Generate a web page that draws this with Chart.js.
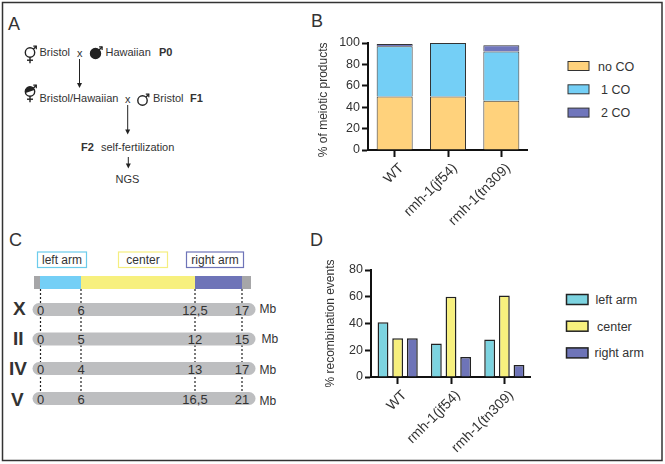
<!DOCTYPE html>
<html>
<head>
<meta charset="utf-8">
<script src="https://cdn.jsdelivr.net/npm/chart.js@4"></script>
<style>
  html, body { margin: 0; padding: 0; background: #fff; }
  #page { position: relative; width: 665px; height: 464px; overflow: hidden; }
  #page canvas { position: absolute; }
  #art { position: absolute; left: 0; top: 0; }
  #art text { font-family: "Liberation Sans", Arial, sans-serif; fill: #333; }
</style>
</head>
<body>
<div id="page">
  <svg id="art" width="665" height="464" xmlns="http://www.w3.org/2000/svg"></svg>
  <canvas id="chart-b" style="left:316px;top:30px" width="212" height="200"></canvas>
  <canvas id="chart-d" style="left:323px;top:256px" width="208" height="203"></canvas>
</div>
<script>
// panel B
const strains = ["WT", "rmh-1(jf54)", "rmh-1(tn309)"];
const noCO = [50, 50, 46];
const oneCO = [47, 50, 46];
const twoCO = [2, 0, 6];
const ticksB = [0, 20, 40, 60, 80, 100];

// panel D
const leftArm = [41, 25, 28];
const center = [29, 60, 61];
const rightArm = [29, 15, 9];
const ticksD = [0, 20, 40, 60, 80];

// panel C
const chromosomes = ["X", "II", "IV", "V"];
const armLabels = ["left arm", "center", "right arm"];
const chrX = ["0", "6", "12,5", "17"];
const chrII = ["0", "5", "12", "15"];
const chrIV = ["0", "4", "13", "17"];
const chrV = ["0", "6", "16,5", "21"];

const FONT = "'Liberation Sans', Arial, sans-serif";
const INK = "#333";

function barOptions(opts) {
  return {
    responsive: false,
    animation: false,
    layout: { padding: { top: opts.top, left: 0, right: 0, bottom: 0 } },
    plugins: { legend: { display: false }, tooltip: { enabled: false } },
    scales: {
      x: {
        stacked: opts.stacked,
        offset: true,
        grid: { offset: false, drawOnChartArea: false, tickLength: 7, tickWidth: 2, tickColor: "#111" },
        border: { color: "#111", width: 2 },
        ticks: {
          autoSkip: false, minRotation: 45, maxRotation: 45, padding: 3, labelOffset: 7, color: INK,
          font: { family: FONT, size: 14 },
        },
        afterFit: (s) => { s.height = opts.xHeight; s.paddingLeft = 0; s.paddingRight = 0; },
      },
      y: {
        stacked: opts.stacked,
        min: 0,
        max: opts.ticks[opts.ticks.length - 1],
        afterBuildTicks: (s) => { s.ticks = opts.ticks.map((v) => ({ value: v })); },
        grid: { drawOnChartArea: false, tickLength: 6, tickWidth: 2, tickColor: "#111" },
        border: { color: "#111", width: 2 },
        ticks: { padding: 2, color: INK, font: { family: FONT, size: opts.tickSize } },
        title: { display: true, text: opts.title, color: INK, padding: 0, font: { family: FONT, size: 12 } },
        afterFit: (s) => { s.width = opts.yWidth; s.paddingTop = 0; s.paddingBottom = 0; },
      },
    },
  };
}

const seriesB = [
  { label: "no CO", data: noCO, backgroundColor: "#FFD27C" },
  { label: "1 CO", data: oneCO, backgroundColor: "#74CFF6" },
  { label: "2 CO", data: twoCO, backgroundColor: "#7076BC" },
];
new Chart(document.getElementById("chart-b"), {
  type: "bar",
  data: {
    labels: strains,
    datasets: seriesB.map((s) => ({ ...s, borderColor: "#333", borderWidth: 1, barPercentage: 0.675, categoryPercentage: 1 })),
  },
  options: barOptions({ stacked: true, ticks: ticksB, top: 13, xHeight: 80, yWidth: 52, tickSize: 12.5, title: "% of meiotic products  " }),
});

const seriesD = [
  { label: "left arm", data: leftArm, backgroundColor: "#7CD3E0" },
  { label: "center", data: center, backgroundColor: "#F7F07E" },
  { label: "right arm", data: rightArm, backgroundColor: "#6E74B8" },
];
new Chart(document.getElementById("chart-d"), {
  type: "bar",
  data: {
    labels: strains,
    datasets: seriesD.map((s) => ({ ...s, borderColor: "#222", borderWidth: 1.5, barPercentage: 0.74, categoryPercentage: 0.825 })),
  },
  options: barOptions({ stacked: false, ticks: ticksD, top: 14, xHeight: 82, yWidth: 48, tickSize: 12.5, title: "% recombination events" }),
});

// everything that is not a chart: frame, panel letters, crossing scheme, chromosome map, legends
const svg = document.getElementById("art");
function el(name, attrs, text) {
  const n = document.createElementNS("http://www.w3.org/2000/svg", name);
  for (const k in attrs) n.setAttribute(k, attrs[k]);
  if (text !== undefined) n.textContent = text;
  svg.appendChild(n);
  return n;
}
function txt(x, y, s, size, extra) {
  return el("text", { x: x, y: y, "font-size": size || 11, ...extra }, s);
}
function rect(x, y, w, h, fill, extra) {
  return el("rect", { x: x, y: y, width: w, height: h, fill: fill, ...extra });
}
function line(x1, y1, x2, y2, extra) {
  return el("line", { x1: x1, y1: y1, x2: x2, y2: y2, stroke: "#222", "stroke-width": 1, ...extra });
}
function arrow(x, y1, y2) {
  line(x, y1, x, y2 - 4);
  el("path", { d: `M${x - 2.5} ${y2 - 5}L${x + 2.5} ${y2 - 5}L${x} ${y2}Z`, fill: "#222" });
}
function sexSymbol(cx, cy, r, female, fill) {
  if (female) line(cx, cy + r, cx, cy + r + 6, { "stroke-width": 1.4 });
  if (female) line(cx - 3, cy + r + 3, cx + 3, cy + r + 3, { "stroke-width": 1.4 });
  const tx = cx + r + 1.6, ty = cy - r - 1.6;
  line(cx + r * 0.7, cy - r * 0.7, tx, ty, { "stroke-width": 1.4 });
  el("path", { d: `M${tx - 3} ${ty}L${tx} ${ty}L${tx} ${ty + 3}`, fill: "none", stroke: "#222", "stroke-width": 1.2 });
  el("circle", { cx: cx, cy: cy, r: r, fill: fill === "#222" ? "#222" : "#fff", stroke: "#222", "stroke-width": 1.4 });
  if (fill === "half") el("path", { d: `M${cx - r} ${cy}A${r} ${r} 0 0 1 ${cx + r} ${cy}Z`, fill: "#222", transform: `rotate(-20 ${cx} ${cy})` });
}

rect(2.5, 2.5, 659.5, 458, "none", { stroke: "#333", "stroke-width": 1.5 });
txt(8, 30, "A", 18);
txt(311, 27, "B", 18);
txt(9, 245.5, "C", 18);
txt(310, 245.5, "D", 18);

// A: crossing scheme
sexSymbol(30, 52.5, 4.7, true, "none");
txt(39.5, 56, "Bristol");
txt(77, 56.5, "x");
sexSymbol(95.5, 53.5, 5, false, "#222");
txt(105.5, 56, "Hawaiian");
txt(159, 56, "P0", 11, { "font-weight": "bold" });
arrow(79.5, 59, 88);
sexSymbol(30, 91.5, 4.7, true, "half");
txt(39.5, 102, "Bristol/Hawaiian");
txt(125, 103, "x");
sexSymbol(142.5, 100.5, 4.7, false, "none");
txt(153, 102, "Bristol");
txt(190, 102, "F1", 11, { "font-weight": "bold" });
arrow(127.7, 105, 134.5);
txt(81, 151, "F2", 11, { "font-weight": "bold" });
txt(101, 151, "self-fertilization");
arrow(128.3, 157, 168.5);
txt(115.5, 183, "NGS");

// C: chromosome map
const armBoxes = [[37.5, 49, "#6CCCEC"], [118.5, 49, "#F5EE80"], [186.5, 57, "#6E74B8"]];
armLabels.forEach((label, i) => {
  const [x, w, col] = armBoxes[i];
  rect(x, 252, w, 15.5, "#fff", { stroke: col, "stroke-width": 1.2 });
  txt(x + w / 2, 264, label, 12, { "text-anchor": "middle" });
});
rect(34, 276, 217, 13, "#A6A6A8");
rect(40, 276, 41, 13, "#74CFF6");
rect(81, 276, 114, 13, "#F7F07E");
rect(195, 276, 47, 13, "#6E74B8");
const dashX = [40.5, 81, 195, 242];
dashX.forEach((x) => line(x, 289, x, 393, { "stroke-width": 1.2, "stroke-dasharray": "2 2" }));
const rows = [
  { top: 303, base: 314.5, mbX: 259.5, mbY: 312.5, nameX: 13, nameY: 315, labels: chrX },
  { top: 332.5, base: 344, mbX: 261.5, mbY: 342.5, nameX: 13, nameY: 345, labels: chrII },
  { top: 362, base: 374, mbX: 259.5, mbY: 373.5, nameX: 9, nameY: 374.5, labels: chrIV },
  { top: 392, base: 403.5, mbX: 259.5, mbY: 404.5, nameX: 11, nameY: 405.5, labels: chrV },
];
rows.forEach((r, i) => {
  rect(32.5, r.top, 223, 13, "#BDBEC0", { rx: 6.5 });
  txt(r.nameX, r.nameY, chromosomes[i], 19, { "font-weight": "bold" });
  r.labels.forEach((label, j) => txt(dashX[j], r.base, label, 13, { "text-anchor": "middle" }));
  txt(r.mbX, r.mbY, "Mb", 12);
});

// legends, built from the same series as the charts
const labelXB = [598, 601, 601];
seriesB.forEach((s, i) => {
  const y = 66 + i * 23.3;
  rect(568, y - 4.5, 21, 9, s.backgroundColor, { stroke: "#333", "stroke-width": 1 });
  txt(labelXB[i], y + 4.5, s.label, 12.5);
});
const labelXD = [595.5, 597, 594.5];
seriesD.forEach((s, i) => {
  const y = 299.5 + i * 26.7;
  rect(566.5, y - 5, 21.5, 10, s.backgroundColor, { stroke: "#222", "stroke-width": 1.5 });
  txt(labelXD[i], y + 4.5, s.label, 12.5);
});
</script>
</body>
</html>
